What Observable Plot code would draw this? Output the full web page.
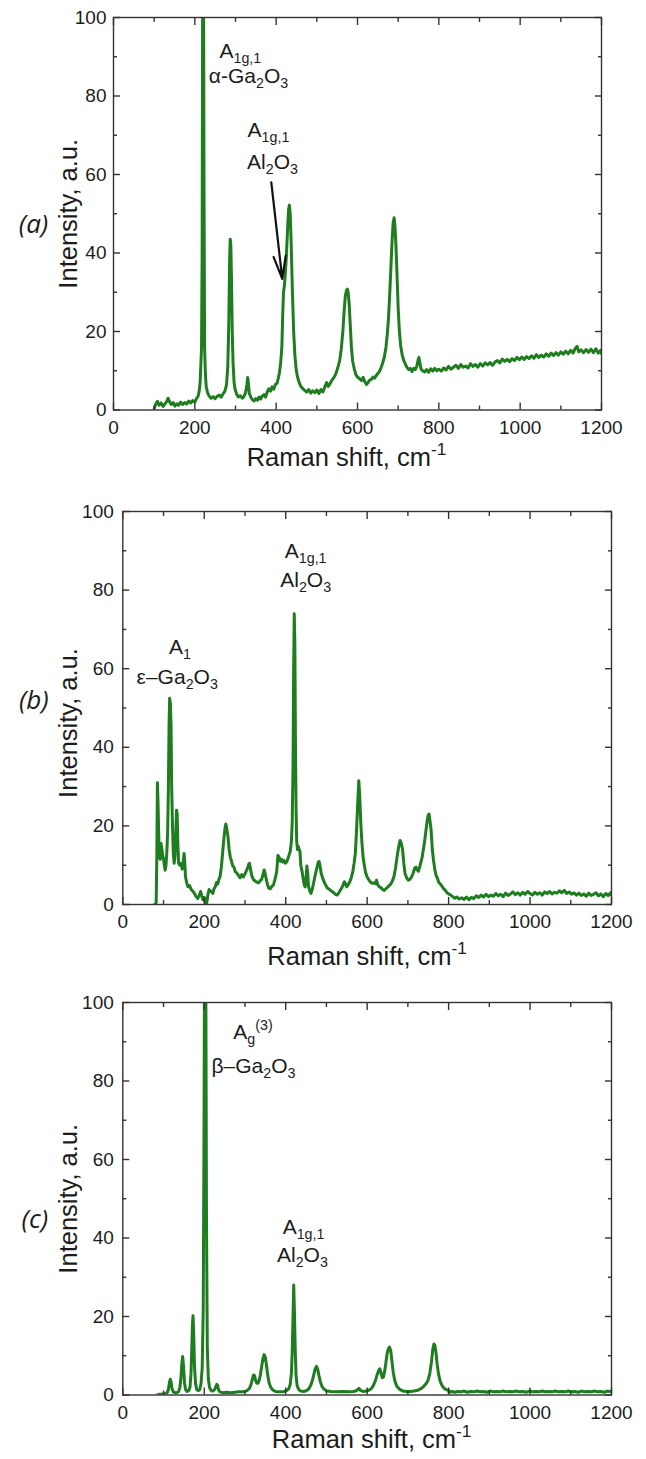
<!DOCTYPE html>
<html><head><meta charset="utf-8">
<script src="https://cdn.jsdelivr.net/npm/d3@7"></script>
<script src="https://cdn.jsdelivr.net/npm/@observablehq/plot@0.6"></script>
<style>
html,body{margin:0;padding:0;background:#fff;}
#wrap{position:relative;width:646px;height:1459px;overflow:hidden;background:#fff;}
#wrap svg{position:absolute;left:0;}
</style></head><body><div id="wrap"></div>
<script>
// ---- data (Raman shift cm-1, intensity a.u.) ----
const spectrumA = [[100,0.3],[104,1.5],[108,2.2],[112,1.2],[117,1.8],[122,0.9],[127,1.6],[131,2.2],[134,3.0],[138,2.1],[142,1.4],[147,1.9],[151,1.0],[156,1.6],[160,1.2],[165,2.0],[170,1.4],[175,1.9],[180,1.5],[185,2.3],[190,1.8],[195,2.4],[200,2.0],[204,2.9],[208,3.5],[211,5.0],[213,7.0],[215,12],[216.5,16],[218,40],[219.5,120],[221,130],[222.5,60],[224,16],[226,9],[228,6],[231,4.5],[235,3.6],[240,3.0],[245,3.4],[250,2.9],[255,3.5],[260,3.8],[265,3.3],[270,4.2],[274,4.8],[278,6.5],[281,11],[283.5,22],[285.5,38],[287,43.5],[288.5,42],[290,34],[292,20],[294,12],[296.5,7],[299,5.2],[303,4.0],[307,3.3],[312,3.6],[317,3.0],[321,3.5],[325,4.5],[328,6.5],[330,8.3],[332,6.5],[334,4.2],[338,3.2],[342,2.6],[346,2.3],[350,2.9],[354,2.5],[358,3.3],[362,2.8],[366,3.6],[370,3.9],[374,3.3],[378,4.6],[382,5.4],[386,4.8],[390,5.9],[394,5.3],[398,6.5],[402,6.8],[405,8.0],[408,9.5],[411,12],[414,16],[416,24],[418,30],[420,31.5],[422,34],[425,39],[428,46],[430.5,51],[432.5,52.2],[434.5,50],[437,42],[440,30],[443,20],[446,14],[449,10.5],[452,8.6],[456,7.2],[460,6.1],[465,5.5],[470,5.0],[475,4.6],[480,5.2],[485,4.3],[490,4.9],[495,4.4],[500,5.1],[505,4.2],[510,5.2],[515,4.6],[520,6.0],[524,7.0],[528,6.0],[532,6.6],[536,7.4],[540,8.0],[544,8.6],[548,9.6],[552,11],[556,12.5],[560,15.5],[564,20],[567,25],[570,29],[573,30.5],[575,30.8],[577,30],[579.5,27],[582,22],[585,16],[588,12.5],[592,10.5],[596,9.0],[600,8.4],[605,8.0],[610,7.5],[614,8.3],[618,7.2],[622,6.5],[626,7.0],[630,7.6],[634,7.8],[638,8.4],[642,8.1],[646,8.8],[650,9.3],[654,9.8],[658,10.8],[662,12.0],[666,13.5],[670,16],[673,19],[676,23],[679,29],[682,36],[685,43],[687.5,47.5],[690,49],[692,47],[694.5,42],[697,35],[700,26],[703,20],[706,16.5],[710,14],[714,12.5],[718,11.6],[722,10.8],[726,10.3],[730,10.6],[734,9.8],[738,10.6],[742,10.3],[746,11.2],[749,12.8],[751,13.4],[753,12.2],[756,10.5],[760,10.0],[765,9.7],[770,10.3],[775,9.6],[780,10.5],[785,9.9],[790,10.6],[795,10.0],[800,10.4],[806,9.9],[812,10.7],[818,10.2],[824,11.1],[830,10.4],[836,10.9],[842,11.4],[848,10.6],[854,11.6],[860,10.9],[866,11.2],[872,10.7],[878,11.8],[884,11.1],[890,11.6],[896,10.9],[902,11.8],[908,11.2],[914,12.0],[920,11.5],[926,12.1],[932,11.4],[938,12.2],[944,12.6],[950,12.0],[956,13.0],[962,12.4],[968,12.9],[974,12.3],[980,13.1],[986,12.6],[992,13.4],[998,12.8],[1004,13.5],[1010,12.9],[1016,13.6],[1022,13.1],[1028,13.8],[1034,13.2],[1040,14.1],[1046,13.4],[1052,14.0],[1058,13.5],[1064,14.3],[1070,13.7],[1076,14.5],[1082,13.9],[1088,14.6],[1094,14.0],[1100,14.8],[1106,14.2],[1112,15.0],[1118,14.3],[1124,15.2],[1130,14.5],[1136,15.8],[1140,16.2],[1144,14.8],[1150,15.3],[1156,14.6],[1162,15.4],[1168,14.7],[1174,15.5],[1180,14.6],[1186,15.6],[1192,14.5],[1198,15.2],[1200,14.4]];

const spectrumB = [[78,0],[80,0],[82,0.5],[83.5,12],[85,31],[86.5,26],[88,18.5],[90,12],[92,11.5],[94,15.5],[96,14],[98,12.5],[100,11.5],[102,10],[104,8.7],[106,10],[108,13],[110,18],[112,30],[113.5,45],[115,52.5],[117,51],[118.5,45],[120,30],[122,20],[124,13],[126,10.5],[128,12],[130,18],[132,24],[133.5,23],[135,16],[137,10.5],[140,10],[143,10.5],[146,9],[148.5,11],[150.5,13],[152,11],[154,7],[157,5.5],[160,4.5],[164,4.8],[168,3.8],[172,3.4],[176,2.8],[180,2.0],[184,1.5],[188,2.4],[191,3.3],[194,2.2],[197,1.2],[200,1.8],[203,0.6],[206,0.4],[209,2.5],[212,3.8],[215,3.4],[218,3.3],[221,2.8],[224,4.0],[227,4.5],[230,5.6],[233,5.2],[236,6.4],[239,7.2],[242,9.5],[245,13],[248,16.5],[251,19.5],[253,20.5],[255,19.5],[258,17.5],[261,14],[264,12],[267,11],[270,9.8],[273,9.5],[276,8.4],[280,8.0],[284,7.4],[288,6.8],[292,7.6],[296,7.0],[300,7.8],[303,8.5],[306,9.2],[309,10.2],[311,10.5],[314,8.8],[317,7.2],[321,6.3],[325,6.0],[329,5.7],[333,5.5],[337,6.0],[341,6.4],[344,7.5],[347,8.8],[349,8.2],[352,6.5],[355,5.2],[358,4.2],[362,4.0],[366,4.6],[370,5.0],[374,6.5],[378,8.5],[381,12.5],[384,12],[387,11],[390,11.5],[393,10.8],[396,11.2],[399,10.5],[402,10.8],[405,11.5],[408,12.5],[411,13.5],[414,16],[416,21],[418,35],[419.5,60],[421,74],[422.5,66],[424,40],[425.5,24],[427,16],[429,14],[431,14.8],[433,14],[435,13.5],[437,10],[440,8.5],[443,6.5],[446,4.8],[448,4.5],[450,6.5],[452,9.8],[454,8],[456,4.6],[459,3.5],[462,2.8],[465,3.8],[468,5.2],[471,6.8],[474,8.2],[477,9.5],[480,10.8],[482,11],[484,10],[487,8],[490,7.0],[494,5.8],[498,5.0],[502,4.2],[506,4.0],[510,3.6],[514,3.3],[518,3.0],[522,2.6],[526,2.4],[530,2.9],[534,3.6],[538,4.3],[541,5.0],[544,5.8],[547,5.2],[550,4.5],[553,5.0],[556,5.5],[559,6.2],[562,7.2],[565,8.5],[568,10.5],[571,13],[574,19],[577,26],[579.5,31.5],[582,27],[584.5,20.5],[587,16],[590,12],[593,10],[596,8.2],[600,7.0],[604,6.3],[608,5.7],[612,5.4],[616,5.5],[620,5.3],[623,6.2],[626,5.0],[630,4.5],[634,4.3],[638,3.8],[642,3.6],[646,4.0],[650,4.4],[654,4.8],[658,5.2],[662,6.0],[666,7.2],[670,9.5],[674,12.5],[678,15],[681,16.3],[684,15.5],[687,14],[690,10.5],[693,7.9],[697,6.8],[701,6.2],[705,6.4],[709,7.0],[713,8.0],[717,9.3],[720,9.5],[723,8.8],[726,8.5],[729,9.5],[732,10.8],[735,12],[738,14],[741,16],[744,18.5],[747,21],[750,22.8],[752,23],[754,21.5],[757,19],[760,14],[763,11.2],[766,9],[769,7.5],[772,6.8],[776,5.6],[780,5.2],[784,4.6],[788,4.0],[792,3.6],[796,3.0],[800,2.7],[805,2.4],[810,2.0],[815,1.6],[820,1.9],[826,1.4],[832,1.7],[838,1.3],[844,1.9],[850,1.2],[856,1.8],[862,1.5],[868,2.2],[874,1.8],[880,2.4],[886,1.9],[892,2.6],[898,2.0],[904,2.4],[910,2.1],[916,2.8],[922,2.2],[928,2.6],[934,2.0],[940,2.9],[946,2.3],[952,2.7],[958,3.2],[964,2.5],[970,3.0],[976,2.4],[982,3.1],[988,2.6],[994,3.3],[1000,2.8],[1006,2.4],[1012,3.1],[1018,2.6],[1024,3.0],[1030,2.4],[1036,3.2],[1042,2.8],[1048,3.3],[1054,2.7],[1060,3.1],[1066,2.9],[1072,3.5],[1078,3.0],[1084,3.6],[1090,2.8],[1096,3.2],[1102,2.6],[1108,3.0],[1114,2.4],[1120,2.9],[1126,2.3],[1132,2.7],[1138,2.1],[1144,2.9],[1150,2.3],[1156,2.6],[1162,3.0],[1168,2.2],[1174,2.7],[1180,2.0],[1186,2.8],[1192,2.3],[1198,3.0],[1200,2.4]];

const spectrumC = [[85,0.1],[90,0.2],[95,0.2],[100,0.3],[105,0.4],[109,0.6],[112,1.4],[114.5,3.2],[116.5,4.0],[118.5,3.4],[121,1.6],[124,0.8],[128,0.6],[133,0.6],[137,0.9],[140,1.8],[142.5,4.0],[145,8.0],[147,9.8],[149,7.5],[151.5,3.2],[154,1.4],[158,0.9],[162,1.1],[165,2.0],[167.5,5.5],[169.5,12],[171,18],[172.5,20.2],[174,16],[176,7.5],[178.5,3.0],[181.5,1.4],[185,1.1],[189,1.4],[192,2.8],[195,7],[197.5,22],[199.5,70],[201.5,140],[203.5,120],[205.5,45],[207.5,12],[210,4.2],[213,1.9],[217,1.1],[221,1.0],[225,1.3],[228,2.0],[230.5,2.7],[232.5,2.5],[235,1.4],[238,0.8],[245,0.6],[255,0.7],[265,0.6],[275,0.7],[285,0.8],[295,0.8],[302,1.0],[306,1.2],[311,1.7],[315,2.7],[318,3.9],[321,5.1],[323.5,4.9],[326,3.8],[329,3.0],[332,3.0],[335,3.8],[338,5.2],[341,7.3],[344,9.2],[347,10.3],[350,9.6],[353,7.4],[356,5.0],[359,3.2],[363,2.0],[368,1.3],[375,0.9],[385,0.8],[395,0.9],[402,1.1],[407,1.5],[411,2.6],[414,5.5],[416,11],[418,20],[419.7,28],[421.5,21],[423.5,11],[425.5,5],[428,2.4],[432,1.4],[437,1.0],[444,0.9],[451,1.1],[457,1.6],[462,2.6],[466,3.9],[469.5,5.4],[472.5,6.7],[475.5,7.3],[478.5,6.6],[481.5,5.0],[485,3.4],[489,2.2],[494,1.5],[500,1.1],[510,0.9],[525,0.8],[540,0.9],[555,0.8],[566,0.9],[573,1.1],[577,1.4],[580,1.7],[583,1.2],[590,0.9],[598,1.0],[604,1.2],[610,1.6],[615,2.4],[620,3.6],[624,5.0],[628,6.2],[631,6.7],[634,5.6],[637,4.4],[640,4.6],[643,6.0],[646,8.2],[649,10.5],[652,11.8],[655,12.2],[658,11.2],[661,8.5],[664,5.8],[668,3.6],[673,2.2],[679,1.5],[686,1.1],[695,0.9],[705,0.9],[715,1.0],[724,1.2],[732,1.6],[739,2.2],[745,2.9],[750,3.9],[754,5.6],[758,8.5],[761,11.5],[764,13.0],[766,12.8],[769,10.8],[772,7.8],[775,5.5],[779,3.6],[784,2.4],[790,1.6],[796,1.3],[800,1.2],[801,0.7],[808,0.9],[815,0.7],[822,0.9],[830,0.8],[838,1.0],[846,0.7],[854,0.9],[862,0.8],[870,1.0],[878,0.8],[886,0.9],[894,0.7],[902,1.0],[910,0.8],[918,0.9],[926,0.8],[934,1.0],[942,0.8],[950,0.9],[958,0.8],[966,1.0],[974,0.8],[982,0.9],[990,0.7],[998,1.0],[1006,0.8],[1014,0.9],[1022,0.8],[1030,1.0],[1038,0.8],[1046,0.9],[1054,0.8],[1062,1.0],[1070,0.8],[1078,0.9],[1086,0.8],[1094,1.0],[1102,0.8],[1110,0.9],[1118,0.7],[1126,1.0],[1134,0.8],[1142,0.9],[1150,0.8],[1158,1.0],[1166,0.8],[1174,0.9],[1182,0.7],[1190,1.0],[1200,0.8]];

// tick values
const xMajor = [0, 200, 400, 600, 800, 1000, 1200];
const xMinor = [100, 300, 500, 700, 900, 1100];
const yMajor = [0, 20, 40, 60, 80, 100];
const yMinor = [10, 30, 50, 70, 90];
const xTitle = "Raman shift, cm^{-1}";
const yTitle = "Intensity, a.u.";

// annotations (text, Raman shift, intensity of text baseline)
const notesA = ["A_{1g,1}", "α-Ga_{2}O_{3}", "A_{1g,1}", "Al_{2}O_{3}"];
const notesAx = [312, 332, 381, 391];
const notesAy = [89.8, 83.4, 69.5, 61.5];
const arrowA = {x1: 388, y1: 58, x2: 415, y2: 33.4};
const notesB = ["A_{1g,1}", "Al_{2}O_{3}", "A_{1}", "ε–Ga_{2}O_{3}"];
const notesBx = [449, 449, 140.5, 133.6];
const notesBy = [88.2, 80.8, 63.8, 56.2];
const notesC = ["A_{g}^{(3)}", "β–Ga_{2}O_{3}", "A_{1g,1}", "Al_{2}O_{3}"];
const notesCx = [319.7, 321, 443.8, 441];
const notesCy = [90.8, 82, 41, 33.8];

const green = "#1e7d1e";
const ink = "#1c1c1c";
const axisInk = "#333";

function tickAxes(axis, anchor, ticks, size) {
  return axis({anchor, ticks, tickSize: size, fill: "none", stroke: axisInk, strokeWidth: 1.4, label: null});
}

function panel(o) {
  const rows = o.spectrum.map(([x, y]) => ({x, y}));
  const notes = o.notes.map((t, i) => ({t, x: o.nx[i], y: o.ny[i]}));
  const marks = [
    Plot.line(rows, {x: "x", y: "y", stroke: green, strokeWidth: 3, strokeLinejoin: "round", clip: true}),
    Plot.frame({stroke: axisInk, strokeWidth: 1.4}),
    tickAxes(Plot.axisX, "bottom", xMajor, -7),
    tickAxes(Plot.axisX, "top", xMajor, -7),
    tickAxes(Plot.axisX, "bottom", xMinor, -4),
    tickAxes(Plot.axisX, "top", xMinor, -4),
    tickAxes(Plot.axisY, "left", yMajor, -7),
    tickAxes(Plot.axisY, "right", yMajor, -7),
    tickAxes(Plot.axisY, "left", yMinor, -4),
    tickAxes(Plot.axisY, "right", yMinor, -4),
    Plot.axisX({anchor: "bottom", ticks: xMajor, tickSize: 0, tickPadding: 10, tickFormat: "d", fontSize: 19, fill: ink, label: null}),
    Plot.axisY({anchor: "left", ticks: yMajor, tickSize: 0, tickPadding: o.yPad, tickFormat: "d", fontSize: 19, fill: ink, label: null}),
    Plot.text([xTitle], {text: d => d, frameAnchor: "bottom", textAnchor: "middle", dx: o.xtDx, dy: o.xtDy, lineAnchor: "bottom", fontSize: 25.5, fill: ink}),
    Plot.text([yTitle], {text: d => d, frameAnchor: "left", textAnchor: "middle", rotate: -90, dx: o.ytDx, dy: o.ytDy, fontSize: 25.5, fill: ink}),
    Plot.text([o.tag], {text: d => d, frameAnchor: "left", textAnchor: "middle", dx: o.tagDx, dy: o.tagDy, fontSize: 26, fontStyle: "italic", fontFamily: "'Open Sans', 'Noto Sans', sans-serif", fill: ink}),
    Plot.text(notes, {x: "x", y: "y", text: "t", textAnchor: "middle", lineAnchor: "bottom", fontSize: 21, fill: ink})
  ];
  if (o.arrow) {
    marks.push(Plot.arrow([o.arrow], {x1: "x1", y1: "y1", x2: "x2", y2: "y2", stroke: "#111", strokeWidth: 2.2, headLength: 16, headAngle: 30}));
  }
  const svg = Plot.plot({
    width: 646,
    height: o.height,
    marginLeft: o.ml, marginRight: o.mr, marginTop: o.mt, marginBottom: o.mb,
    x: {domain: [0, 1200]},
    y: {domain: [0, 100]},
    style: {background: "white", fontFamily: "'Liberation Sans', Arial, sans-serif", color: ink, overflow: "visible"},
    marks
  });
  rich(svg);
  svg.style.top = o.top + "px";
  return svg;
}

// convert _{..} and ^{..} markup into sub/superscript tspans
function rich(svg) {
  svg.querySelectorAll("text").forEach(node => {
    const s = node.textContent;
    if (!/[_^]\{/.test(s)) return;
    const parts = [];
    const re = /([_^])\{([^}]*)\}|([^_^]+)/g;
    let m;
    while ((m = re.exec(s))) {
      if (m[3] !== undefined) parts.push({t: m[3], off: 0, k: 1});
      else parts.push({t: m[2], off: m[1] === "_" ? 0.24 : -0.42, k: 0.68});
    }
    while (node.firstChild) node.removeChild(node.firstChild);
    let cur = 0;
    for (const p of parts) {
      const ts = document.createElementNS("http://www.w3.org/2000/svg", "tspan");
      ts.textContent = p.t;
      if (p.k !== 1) ts.setAttribute("font-size", (p.k * 100) + "%");
      const d = (p.off - cur) / p.k;
      if (d) ts.setAttribute("dy", d.toFixed(3) + "em");
      cur = p.off;
      node.appendChild(ts);
    }
  });
}

const wrap = document.getElementById("wrap");
wrap.appendChild(panel({
  spectrum: spectrumA, notes: notesA, nx: notesAx, ny: notesAy, arrow: arrowA,
  top: 0, height: 480, ml: 113, mr: 45, mt: 17, mb: 70.5, yPad: 7,
  xtDx: -11, xtDy: 55.5, ytDx: -45, ytDy: 0, tag: "(a)", tagDx: -80, tagDy: 11
}));
wrap.appendChild(panel({
  spectrum: spectrumB, notes: notesB, nx: notesBx, ny: notesBy,
  top: 480, height: 495, ml: 122.3, mr: 35, mt: 31, mb: 71, yPad: 9,
  xtDx: 0, xtDy: 60, ytDx: -54, ytDy: 15, tag: "(b)", tagDx: -89, tagDy: -7.5
}));
wrap.appendChild(panel({
  spectrum: spectrumC, notes: notesC, nx: notesCx, ny: notesCy,
  top: 975, height: 484, ml: 122.3, mr: 35, mt: 27, mb: 64.5, yPad: 9,
  xtDx: 4.5, xtDy: 52.5, ytDx: -54, ytDy: 0, tag: "(c)", tagDx: -88, tagDy: 21
}));
</script></body></html>
